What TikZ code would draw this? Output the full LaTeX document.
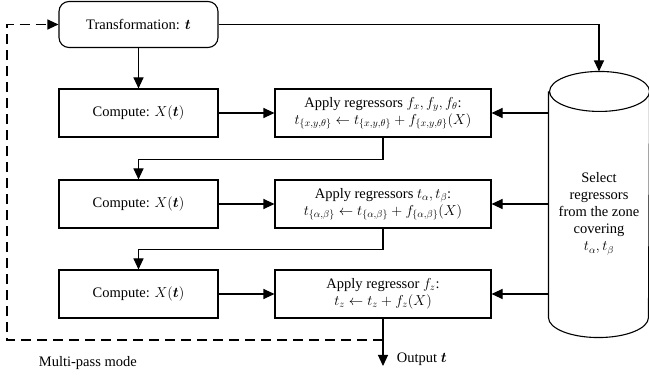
\documentclass[tikz,border=0pt]{standalone}
\usepackage{fontspec}
\setmainfont{Liberation Serif}
\usepackage{amsmath}
\usepackage{bm}
\usetikzlibrary{arrows.meta}
\begin{document}
\begin{tikzpicture}[x=1pt,y=-1pt,
  font=\fontsize{14.5}{17}\selectfont,
  line width=1.1pt,
  arr/.style={-{Triangle[length=11pt,width=10pt]}},
  box/.style={draw,rectangle,inner sep=0pt,minimum width=159pt,minimum height=48pt,align=center},
  abox/.style={draw,rectangle,inner sep=0pt,minimum width=216pt,minimum height=48pt,align=center},
  dashline/.style={dash pattern=on 10pt off 6pt}]
\useasboundingbox (0,0) rectangle (649,377);
\node[box,rounded corners=10pt,minimum height=46pt] (tr) at (138.5,24.5) {Transformation: $\bm{t}$};
\node[box] (c1) at (138.5,113) {Compute: $X(\bm{t})$};
\node[box] (c2) at (138.5,204) {Compute: $X(\bm{t})$};
\node[box] (c3) at (138.5,294) {Compute: $X(\bm{t})$};
\node[abox] (a1) at (383,113) {Apply regressors $f_x, f_y, f_\theta$:\\$t_{\{x,y,\theta\}} \leftarrow t_{\{x,y,\theta\}} + f_{\{x,y,\theta\}}(X)$};
\node[abox] (a2) at (383,204) {Apply regressors $t_\alpha, t_\beta$:\\$t_{\{\alpha,\beta\}} \leftarrow t_{\{\alpha,\beta\}} + f_{\{\alpha,\beta\}}(X)$};
\node[abox] (a3) at (383,294) {Apply regressor $f_z$:\\$t_z \leftarrow t_z + f_z(X)$};
% cylinder
\node[inner sep=0pt,minimum width=100pt,minimum height=225pt] (db) at (599,204.5) {};
\draw (db.north west) -- (db.south west)
  arc[start angle=180,end angle=0,x radius=50,y radius=20] -- (db.north east)
  arc[start angle=0,end angle=-180,x radius=50,y radius=20]
  arc[start angle=180,end angle=0,x radius=50,y radius=20];
\node[align=center] (dbt) at (599,214) {Select\\regressors\\from the zone\\covering\\$t_\alpha, t_\beta$};
\coordinate (dbtop) at ([yshift=20pt]db.north);
% connectors
\draw[arr] (tr.east) -| (dbtop);
\draw[arr] (tr.south) -- (c1.north);
\draw[arr] (c1.east) -- (a1.west);
\draw[arr] (c2.east) -- (a2.west);
\draw[arr] (c3.east) -- (a3.west);
\draw[arr] (db.west |- a1.east) -- (a1.east);
\draw[arr] (db.west |- a2.east) -- (a2.east);
\draw[arr] (db.west |- a3.east) -- (a3.east);
\draw[arr] (a1.south) -- ++(0,22) -| (c2.north);
\draw[arr] (a2.south) -- ++(0,21) -| (c3.north);
\coordinate (out) at (383,366);
\draw[arr] (a3.south) -- (out);
\node[anchor=west] (outl) at (393,359) {Output $\bm{t}$};
\coordinate (dstart) at (383,340);
\coordinate (dcorner) at (7,24.5);
\draw[arr,dashline] (dstart) -| (dcorner) -- (tr.west);
\node[anchor=west] (mp) at (35,363) {Multi-pass mode};
\end{tikzpicture}
\end{document}
